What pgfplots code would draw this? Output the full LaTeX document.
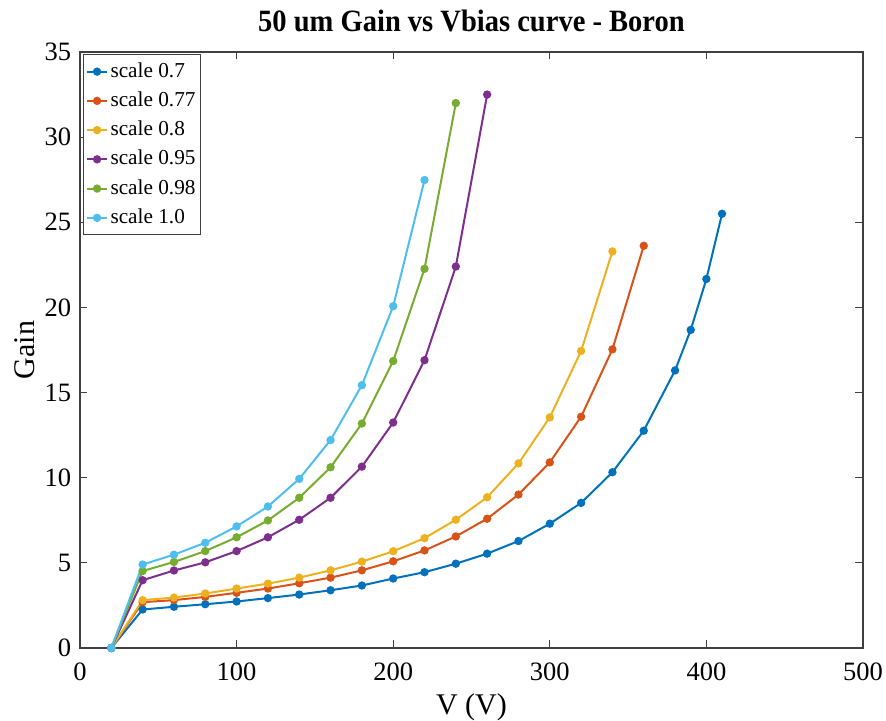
\documentclass[border=0pt]{standalone}
\usepackage{fontspec}
\setmainfont{Liberation Serif}
\newfontfamily\titlefont{Liberation Serif}[FakeStretch=0.92]
\usepackage{pgfplots}
\pgfplotsset{compat=1.18}
\definecolor{c1}{rgb}{0,0.447,0.741}
\definecolor{c2}{rgb}{0.85,0.325,0.098}
\definecolor{c3}{rgb}{0.929,0.694,0.125}
\definecolor{c4}{rgb}{0.494,0.184,0.556}
\definecolor{c5}{rgb}{0.466,0.674,0.188}
\definecolor{c6}{rgb}{0.301,0.745,0.933}
\definecolor{axgray}{rgb}{0.25,0.25,0.25}
\begin{document}
\begin{tikzpicture}
\begin{axis}[
  scale only axis,
  width=313.2pt, height=238.4pt,
  xmin=0, xmax=500, ymin=0, ymax=35,
  xtick={0,100,...,500}, ytick={0,5,...,35},
  tick align=inside,
  major tick length=3pt,
  axis line style={axgray, line width=0.5pt},
  tick style={axgray, line width=0.5pt},
  /pgf/number format/assume math mode=true,
  tick label style={font=\fontsize{10.6}{12}\selectfont},
  xticklabel style={yshift=-2.5pt},
  title={50 um Gain vs Vbias curve - Boron},
  title style={font=\titlefont\bfseries\fontsize{12.4}{14}\selectfont, at={(0.5,1)}, anchor=base, yshift=2pt},
  xlabel={V (V)}, ylabel={Gain},
  label style={font=\fontsize{12}{14}\selectfont},
  xlabel style={yshift=1.8pt},
  ylabel shift=-3pt,
  legend style={at={(0.004,0.996)}, anchor=north west, draw=axgray, line width=0.4pt,
    font=\fontsize{8.5}{10}\selectfont, row sep=0.3pt, inner sep=1pt, cells={anchor=west},
    nodes={inner xsep=1pt}},
  legend image code/.code={
    \draw[mark repeat=2,mark phase=2] plot coordinates {(0cm,0cm) (0.14cm,0cm) (0.28cm,0cm)};},
  every axis plot/.append style={line width=0.8pt, mark=*, mark size=1.25pt},
]
\addplot[c1, mark options={fill=c1}] coordinates {(20,0) (40,2.26) (60,2.42) (80,2.57) (100,2.73) (120,2.93) (140,3.14) (160,3.39) (180,3.67) (200,4.08) (220,4.45) (240,4.95) (260,5.54) (280,6.28) (300,7.3) (320,8.52) (340,10.32) (360,12.76) (380,16.3) (390,18.68) (400,21.67) (410,25.5)};
\addlegendentry{scale 0.7}
\addplot[c2, mark options={fill=c2}] coordinates {(20,0) (40,2.69) (60,2.81) (80,3.0) (100,3.24) (120,3.49) (140,3.8) (160,4.13) (180,4.56) (200,5.09) (220,5.73) (240,6.55) (260,7.59) (280,9.01) (300,10.9) (320,13.58) (340,17.54) (360,23.62)};
\addlegendentry{scale 0.77}
\addplot[c3, mark options={fill=c3}] coordinates {(20,0) (40,2.81) (60,2.96) (80,3.2) (100,3.49) (120,3.78) (140,4.13) (160,4.56) (180,5.07) (200,5.68) (220,6.45) (240,7.53) (260,8.85) (280,10.84) (300,13.54) (320,17.44) (340,23.29)};
\addlegendentry{scale 0.8}
\addplot[c4, mark options={fill=c4}] coordinates {(20,0) (40,3.98) (60,4.55) (80,5.03) (100,5.69) (120,6.5) (140,7.53) (160,8.82) (180,10.65) (200,13.24) (220,16.9) (240,22.4) (260,32.5)};
\addlegendentry{scale 0.95}
\addplot[c5, mark options={fill=c5}] coordinates {(20,0) (40,4.52) (60,5.05) (80,5.69) (100,6.5) (120,7.49) (140,8.82) (160,10.61) (180,13.18) (200,16.85) (220,22.27) (240,32.0)};
\addlegendentry{scale 0.98}
\addplot[c6, mark options={fill=c6}] coordinates {(20,0) (40,4.9) (60,5.48) (80,6.18) (100,7.14) (120,8.31) (140,9.93) (160,12.21) (180,15.43) (200,20.07) (220,27.48)};
\addlegendentry{scale 1.0}
\end{axis}
\pgfresetboundingbox
\path ([shift={(-32pt,-29.2pt)}]current axis.south west) rectangle ([shift={(322.4pt,259.2pt)}]current axis.south west);
\end{tikzpicture}
\end{document}
